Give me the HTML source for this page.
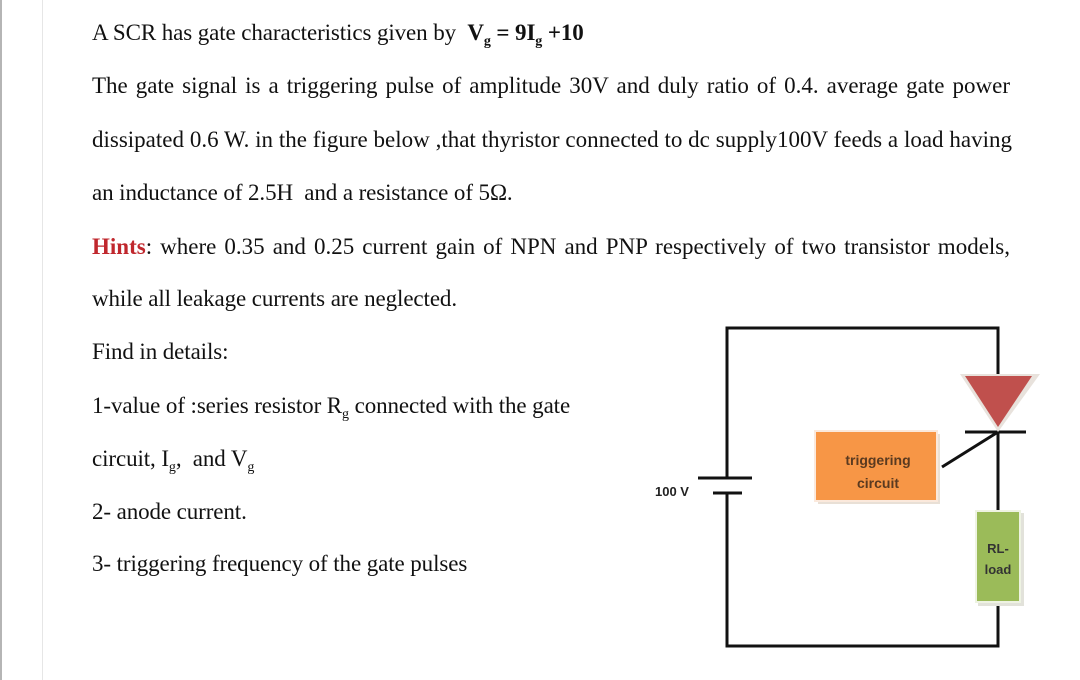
<!DOCTYPE html>
<html><head><meta charset="utf-8"><style>
body{margin:0;width:1080px;height:680px;background:#fff;position:relative;overflow:hidden;font-family:"Liberation Serif",serif;color:#111;}
.l{position:absolute;left:92px;font-size:23px;letter-spacing:-0.1px;white-space:nowrap;line-height:24px;}
.j{width:918px;text-align:justify;text-align-last:justify;white-space:normal;letter-spacing:0;}
sub{font-size:14px;vertical-align:-5px;line-height:0;}
.v{position:absolute;top:0;height:680px;}
</style></head><body>
<div class="v" style="left:0;width:2px;background:#b5b5b5"></div>
<div class="v" style="left:42px;width:1px;background:#e6e6e6"></div>
<div class="l" style="top:21px">A SCR has gate characteristics given by &nbsp;<b>V<sub>g</sub> = 9I<sub>g</sub> +10</b></div>
<div class="l j" style="top:74px">The gate signal is a triggering pulse of amplitude 30V and duly ratio of 0.4. average gate power</div>
<div class="l j" style="top:128px;width:920px">dissipated 0.6 W. in the figure below ,that thyristor connected to dc supply100V feeds a load having</div>
<div class="l" style="top:181px">an inductance of 2.5H &nbsp;and a resistance of 5Ω.</div>
<div class="l j" style="top:235px"><b style="color:#c0272d">Hints</b>: where 0.35 and 0.25 current gain of NPN and PNP respectively of two transistor models,</div>
<div class="l" style="top:287px">while all leakage currents are neglected.</div>
<div class="l" style="top:340px">Find in details:</div>
<div class="l" style="top:394px">1-value of :series resistor R<sub>g</sub> connected with the gate</div>
<div class="l" style="top:447px">circuit, I<sub>g</sub>, &nbsp;and V<sub>g</sub></div>
<div class="l" style="top:500px">2- anode current.</div>
<div class="l" style="top:552px">3- triggering frequency of the gate pulses</div>
<svg width="1080" height="680" style="position:absolute;left:0;top:0" xmlns="http://www.w3.org/2000/svg">
<g stroke="#111" stroke-width="3" fill="none">
<polyline points="727,478 727,328 998,328 998,375"/>
<polyline points="727,493 727,646 998,646 998,606"/>
<line x1="998" y1="432" x2="998" y2="512"/>
<line x1="698" y1="478" x2="752" y2="478"/>
<line x1="713" y1="493" x2="742" y2="493"/>
<line x1="965" y1="432" x2="1026" y2="432"/>
<line x1="998" y1="432" x2="942" y2="467"/>
</g>
<polygon points="960,374 1040,374 998,432" fill="#e8e2dc"/>
<polygon points="965,376 1032,376 998,427" fill="#c0504d"/>
<rect x="818" y="434" width="122" height="70" fill="#e9e0d6"/>
<rect x="815" y="431" width="122" height="70" fill="#f79646" stroke="#fbe9dc" stroke-width="2"/>
<text x="878" y="465" font-family="Liberation Sans,sans-serif" font-size="14" font-weight="bold" fill="#5a3a20" text-anchor="middle">triggering</text>
<text x="878" y="488" font-family="Liberation Sans,sans-serif" font-size="14" font-weight="bold" fill="#5a3a20" text-anchor="middle">circuit</text>
<rect x="978" y="513" width="46" height="93" fill="#e2e2da"/>
<rect x="976" y="511" width="44" height="91" fill="#9bbb59" stroke="#eef3e2" stroke-width="2"/>
<text x="998" y="553" font-family="Liberation Sans,sans-serif" font-size="13" font-weight="bold" fill="#333" text-anchor="middle">RL-</text>
<text x="998" y="574" font-family="Liberation Sans,sans-serif" font-size="13" font-weight="bold" fill="#333" text-anchor="middle">load</text>
<text x="655" y="496" font-family="Liberation Sans,sans-serif" font-size="13" font-weight="bold" fill="#222">100 V</text>
</svg>
</body></html>
